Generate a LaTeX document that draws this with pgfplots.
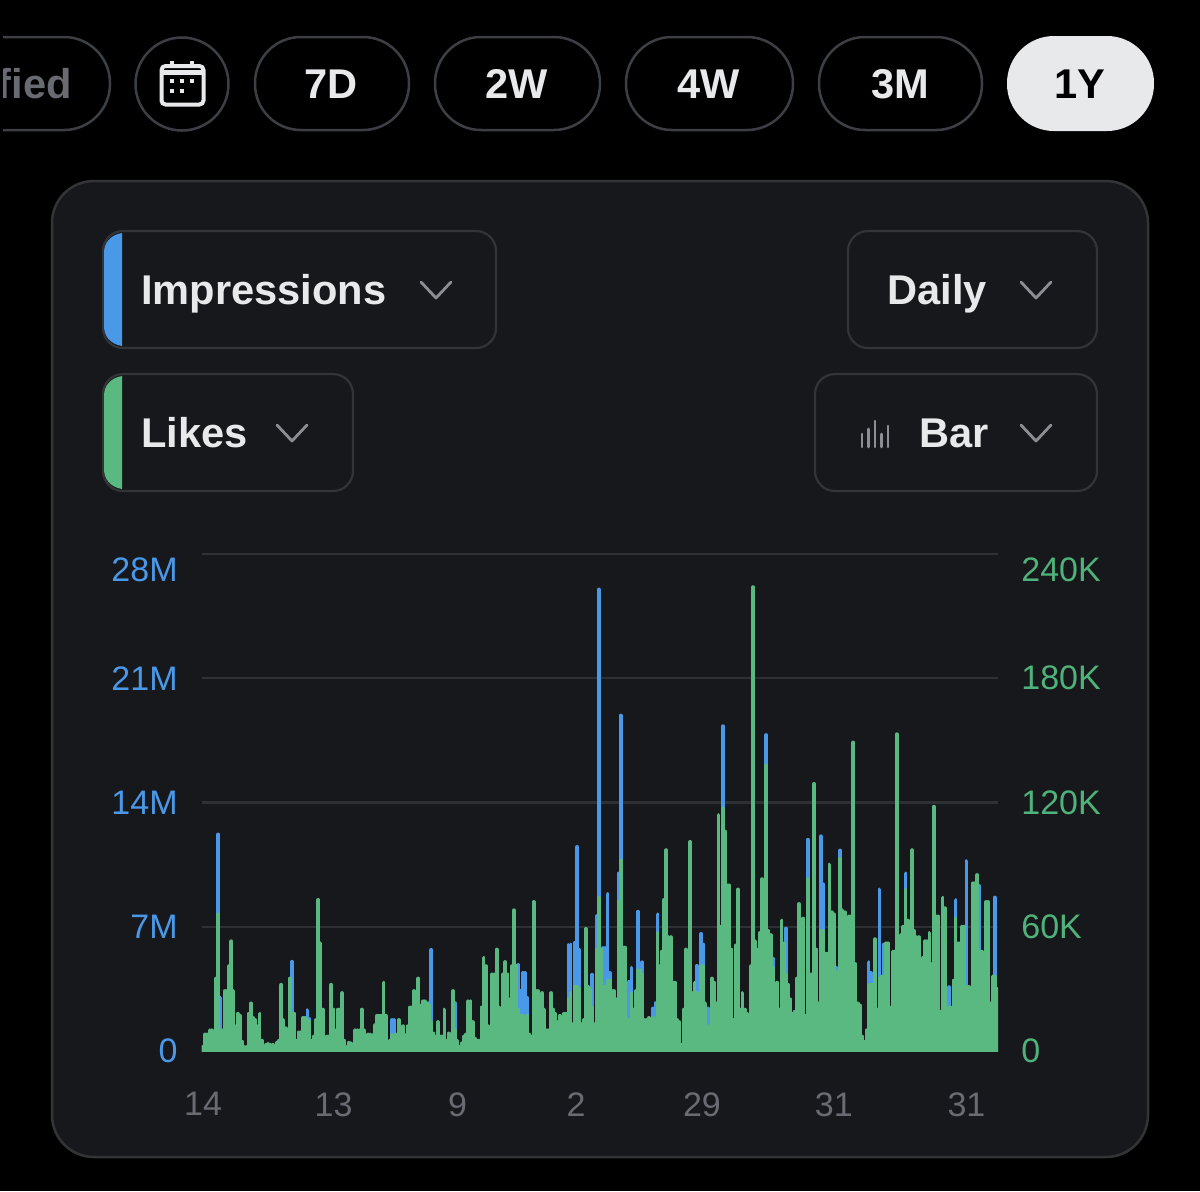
\documentclass[border=0pt]{standalone}
\usepackage{fontspec}
\setmainfont{Liberation Sans}
\usepackage{pgfplots}
\pgfplotsset{compat=1.18}
\definecolor{cbg}{HTML}{17181C}
\definecolor{cborder}{HTML}{323438}
\definecolor{pborder}{HTML}{3C3F43}
\definecolor{gridc}{HTML}{2E3033}
\definecolor{cblue}{HTML}{4A99E9}
\definecolor{cgreen}{HTML}{5AB980}
\definecolor{lgreen}{HTML}{4FB27A}
\definecolor{tgrey}{HTML}{686C72}
\definecolor{ttext}{HTML}{E7E9EA}
\definecolor{chev}{HTML}{8B8E93}
\newcommand{\btn}[1]{{\fontsize{20.8}{24}\selectfont\bfseries #1}}
\newcommand{\tickfont}{\fontsize{17}{20}\selectfont}
\begin{document}
\begin{tikzpicture}[x=0.5pt,y=-0.5pt]
\fill[black] (0,0) rectangle (1200,1191);
\useasboundingbox (0,0) rectangle (1200,1191);
\coordinate (O) at (201.7,1051);
% top pills
\begin{scope}
\clip (3,0) rectangle (300,1191);
\draw[pborder,line width=1.25pt,rounded corners=23pt] (-60,37) rectangle (110,130);
\node[anchor=base east,inner sep=0,text=tgrey] at (72,98) {\btn{ified}};
\end{scope}
\draw[pborder,line width=1.25pt] (182,84) circle[radius=46.5];
\draw[ttext,line width=2pt,rounded corners=2pt] (161.5,66) rectangle (203.5,104.5);
\draw[ttext,line width=2.2pt] (161.5,72.5) -- (203.5,72.5);
\draw[ttext,line width=2pt] (172,61) -- (172,68) (192,61) -- (192,68);
\foreach \p in {172,182,192}{\fill[ttext] (\p-2.2,79) rectangle (\p+2.2,83);}
\foreach \p in {172,182}{\fill[ttext] (\p-2.2,89) rectangle (\p+2.2,93);}
\draw[pborder,line width=1.25pt,rounded corners=23pt] (255,37) rectangle (409,130);
\node[text=ttext] at (331,84) {\btn{7D}};
\draw[pborder,line width=1.25pt,rounded corners=23pt] (435,37) rectangle (600,130);
\node[text=ttext] at (517,84) {\btn{2W}};
\draw[pborder,line width=1.25pt,rounded corners=23pt] (626,37) rectangle (793,130);
\node[text=ttext] at (709,84) {\btn{4W}};
\draw[pborder,line width=1.25pt,rounded corners=23pt] (819,37) rectangle (982,130);
\node[text=ttext] at (900,84) {\btn{3M}};
\fill[ttext,rounded corners=23.5pt] (1007,36) rectangle (1154,131);
\node[text=black] at (1080,84) {\btn{1Y}};
% card
\draw[cborder,fill=cbg,line width=1.25pt,rounded corners=21pt] (52,181) rectangle (1148,1157);
% selectors
\draw[cborder,line width=1.1pt,rounded corners=10pt] (103,231) rectangle (496,348);
\draw[cborder,line width=1.1pt,rounded corners=10pt] (103,374) rectangle (353,491);
\draw[cborder,line width=1.1pt,rounded corners=10pt] (848,231) rectangle (1097,348);
\draw[cborder,line width=1.1pt,rounded corners=10pt] (815,374) rectangle (1097,491);
\fill[cblue] (122,233) -- (122,346) .. controls (110,344) and (104,336) .. (104,326) -- (104,253) .. controls (104,243) and (110,235) .. (122,233) -- cycle;
\fill[cgreen] (122,376) -- (122,489) .. controls (110,487) and (104,479) .. (104,469) -- (104,396) .. controls (104,386) and (110,378) .. (122,376) -- cycle;
\node[anchor=base west,inner sep=0,text=ttext] at (141,304) {\btn{Impressions}};
\node[anchor=base west,inner sep=0,text=ttext] at (141,447) {\btn{Likes}};
\node[anchor=base west,inner sep=0,text=ttext] at (887,304) {\btn{Daily}};
\node[anchor=base west,inner sep=0,text=ttext] at (919,447) {\btn{Bar}};
\foreach \cx/\cy in {436/290,292/433,1036/290,1036/433}{
  \draw[chev,line width=1.4pt,line cap=round,line join=round] (\cx-15,\cy-8) -- (\cx,\cy+8) -- (\cx+15,\cy-8);
}
\draw[chev,line width=1.3pt,line cap=round] (862,447) -- (862,434) (868.5,447) -- (868.5,429) (875,447) -- (875,421) (881.5,447) -- (881.5,434) (888,447) -- (888,426);
% chart, left axis
\begin{axis}[at={(O)},anchor=south west,scale only axis,width=398.25pt,height=248.5pt,
  xmin=-0.6,xmax=365.6,ymin=0,ymax=28,
  axis y line*=left,axis x line*=bottom,axis line style={draw=none},major tick length=0pt,
  ymajorgrids,grid style={gridc,line width=1.2pt},
  xtick={0,60,117,171.5,229.4,290,351},xticklabels={14,13,9,2,29,31,31},
  xticklabel style={text=tgrey,font=\tickfont,inner sep=0pt,anchor=north},xticklabel shift={20.5pt},
  ytick={0,7,14,21,28},yticklabels={0,7M,14M,21M,{}},
  extra y ticks={27.1},extra y tick labels={28M},extra tick style={grid=none,major tick length=0pt},
  yticklabel style={text=cblue,font=\tickfont,inner sep=0pt},yticklabel shift={11.85pt}]
\addplot[ycomb,cblue,line width=1.9pt,line cap=round,mark=none] coordinates {
(6,3)(7,12.2)(8,3)(41,5.03)(48,2.3)(49,1.8)(87,1.75)(88,1.75)(104,2.7)(105,5.7)(116,2.7)
(145,4.85)(146,3.4)(147,4.4)(148,4.4)(149,3)(168,5.97)(169,6)(171,6.1)(172,11.5)(173,5.7)(179,4.3)
(181,7.6)(182,26)(184,5.8)(185,5.8)(186,8.85)(187,4.4)(191,10)(192,18.9)(196,3.9)(197,4.7)
(200,7.85)(201,4.7)(202,5)(207,2.4)(208,2.7)(209,7.7)(227,4.8)(229,6.6)(230,6)(232,2.4)(233,1.8)
(239,18.3)(253,21.9)(259,17.8)(262,5.2)(268,6.9)(278,11.9)(284,12.1)(285,9.4)(291,4.7)(293,11.3)
(306,5)(307,4.4)(311,9.1)(313,6)(319,14.4)(323,10)(343,3.6)(346,8.5)(351,10.7)(357,9.3)(364,8.65)};
\end{axis}
% chart, right axis
\begin{axis}[at={(O)},anchor=south west,scale only axis,width=398.25pt,height=248.5pt,
  xmin=-0.6,xmax=365.6,ymin=0,ymax=240,
  axis y line*=right,axis x line=none,axis line style={draw=none},major tick length=0pt,
  ytick={0,60,120,180},yticklabels={0,60K,120K,180K},
  extra y ticks={232.3},extra y tick labels={240K},extra tick style={major tick length=0pt},
  yticklabel style={text=lgreen,font=\tickfont,inner sep=0pt},yticklabel shift={11.4pt}]
\addplot[ycomb,cgreen,line width=1.9pt,line cap=round,mark=none] coordinates {
(0,2)(1,8)(2,8)(3,10)(4,10)(5,5)(6,35)(7,66)(8,10)(9,10)(10,29)(11,29)(12,41)(13,53)(14,29)(15,12)(16,18)(17,17)(18,4.5)(19,2)
(20,2)(21,18)(22,23)(23,16)(24,15)(25,12)(26,18)(27,5)(28,2)(29,3)(30,3.4)(31,3)(32,3)(33,2)(34,4)(35,5)(36,32)(37,15)(38,11)(39,7)
(40,35)(41,18)(42,18)(43,5)(44,9)(45,9)(46,16)(47,16)(48,15)(49,14)(50,5)(51,7)(52,15)(53,73)(54,52)(55,20)(56,4.5)(57,7)(58,7)(59,32)
(60,20)(61,10)(62,20)(63,20)(64,28)(65,5)(66,2)(67,4)(68,3.7)(69,3)(70,10)(71,10)(72,10)(73,20)(74,10)(75,5)(76,8)(77,8)(78,7.7)(79,12.5)
(80,17)(81,17)(82,17)(83,33)(84,17)(85,2)(86,5)(87,7.7)(88,7.7)(89,8)(90,15)(91,7)(92,12)(93,7.7)(94,12)(95,21)(96,21)(97,29)(98,22)(99,35)
(100,22)(101,24)(102,24)(103,23)(104,22)(105,14)(106,8.5)(107,7)(108,14)(109,7)(110,7)(111,20)(112,5)(113,8.5)(114,8)(115,29)(116,10)(117,5)(118,2)(119,3.7)
(120,7)(121,8)(122,24)(123,24)(124,14)(125,6)(126,5)(127,5)(128,21)(129,45)(130,41)(131,12)(132,3)(133,37)(134,37)(135,49)(136,21)(137,12)(138,37)(139,43)
(140,37)(141,25)(142,41)(143,68)(144,41)(145,20)(146,17)(147,17)(148,16)(149,17)(150,8)(151,7)(152,72)(153,29)(154,29)(155,14)(156,28)(157,20)(158,10)(159,10)
(160,28)(161,20)(162,18)(163,14)(164,17)(165,10)(166,18)(167,18)(168,25)(169,28)(170,13)(171,31)(172,31)(173,30)(174,13)(175,15)(176,59)(177,31)(178,30)(179,21)
(180,13)(181,49)(182,74)(183,49)(184,19)(185,31)(186,34)(187,34)(188,29)(189,29)(190,25)(191,72)(192,92)(193,50)(194,50)(195,15)(196,15)(197,28)(198,20)(199,29)
(200,39)(201,39)(202,37)(203,15)(204,15)(205,16)(206,4.5)(207,16)(208,15)(209,57)(210,41)(211,48)(212,73)(213,97)(214,55)(215,55)(216,33)(217,33)(218,15)(219,14)
(220,3)(221,20)(222,49)(223,28)(224,101)(225,28)(226,33)(227,28)(228,19)(229,41)(230,41)(231,23)(232,12)(233,10)(234,35)(235,33)(236,23)(237,114)(238,60)(239,117)
(240,106)(241,80)(242,80)(243,49)(244,15)(245,51)(246,78)(247,20)(248,28)(249,20)(250,18)(251,14)(252,41)(253,224)(254,53)(255,49)(256,57)(257,83)(258,58)(259,138)
(260,58)(261,56)(262,40)(263,28)(264,33)(265,20)(266,63)(267,52)(268,37)(269,32)(270,25)(271,18)(272,19)(273,35)(274,71)(275,50)(276,64)(277,17)(278,83)(279,37)
(280,37)(281,129)(282,49)(283,23)(284,58)(285,58)(286,47)(287,47)(288,90)(289,67)(290,66)(291,38)(292,37)(293,93)(294,68)(295,67)(296,13)(297,65)(298,65)(299,149)
(300,42)(301,23)(302,22)(303,7)(304,4.5)(305,10)(306,32)(307,32)(308,32)(309,54)(310,20)(311,35)(312,36)(313,35)(314,52)(315,52)(316,21)(317,48)(318,48)(319,153)
(320,31)(321,56)(322,60)(323,78)(324,63)(325,37)(326,97)(327,58)(328,55)(329,55)(330,39)(331,45)(332,53)(333,53)(334,57)(335,42)(336,118)(337,65)(338,65)(339,19)
(340,74)(341,69)(342,17)(343,21)(344,21)(345,34)(346,64)(347,52)(348,52)(349,60)(350,60)(351,31)(352,31)(353,8.5)(354,81)(355,81)(356,85)(357,48)(358,48)(359,43)
(360,72)(361,72)(362,23)(363,36)(364,36)(365,30)};
\end{axis}
\end{tikzpicture}
\end{document}
